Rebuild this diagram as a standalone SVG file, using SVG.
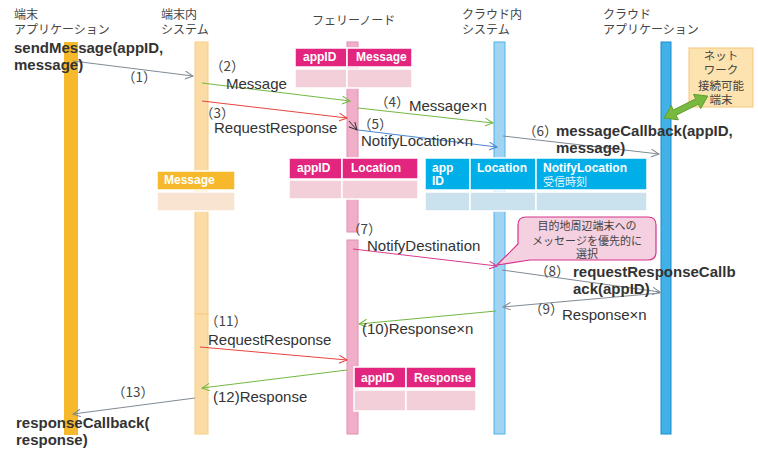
<svg xmlns="http://www.w3.org/2000/svg" width="758" height="450" viewBox="0 0 758 450">
<defs>
<style>
.hd{font-family:"Noto Sans CJK JP","Noto Sans",sans-serif;font-size:12px;fill:#444}
.nw{font-family:"Noto Sans CJK JP","Noto Sans",sans-serif;font-size:11.5px;fill:#444}
.num{font-family:"Noto Sans CJK JP","Noto Sans",sans-serif;font-size:13.5px;fill:#444}
.lb{font-family:"Liberation Sans","Noto Sans CJK JP",sans-serif;font-size:15px;fill:#333}
.bd{font-family:"Liberation Sans","Noto Sans CJK JP",sans-serif;font-size:15px;font-weight:bold;fill:#333}
.th{font-family:"Liberation Sans","Noto Sans CJK JP",sans-serif;font-size:12px;font-weight:bold;fill:#fff}
.tj{font-family:"Noto Sans CJK JP",sans-serif;font-size:11px;fill:#e6f6ff}
.co{font-family:"Noto Sans CJK JP",sans-serif;font-size:11px;fill:#444}
.cell{stroke:#fff;stroke-width:1.5}
.ln{fill:none;stroke-width:1}
</style>
<marker id="ag" markerWidth="10" markerHeight="10" refX="8" refY="4" orient="auto" markerUnits="userSpaceOnUse"><path d="M0,0 L8,4 L0,8" fill="none" stroke="#808a94" stroke-width="1"/></marker>
<marker id="agr" markerWidth="10" markerHeight="10" refX="8" refY="4" orient="auto" markerUnits="userSpaceOnUse"><path d="M0,0 L8,4 L0,8" fill="none" stroke="#72b843" stroke-width="1"/></marker>
<marker id="ar" markerWidth="10" markerHeight="10" refX="8" refY="4" orient="auto" markerUnits="userSpaceOnUse"><path d="M0,0 L8,4 L0,8" fill="none" stroke="#e8443e" stroke-width="1"/></marker>
<marker id="ab" markerWidth="10" markerHeight="10" refX="8" refY="4" orient="auto" markerUnits="userSpaceOnUse"><path d="M0,0 L8,4 L0,8" fill="none" stroke="#4a86d0" stroke-width="1"/></marker>
<marker id="ap" markerWidth="10" markerHeight="10" refX="8" refY="4" orient="auto" markerUnits="userSpaceOnUse"><path d="M0,0 L8,4 L0,8" fill="none" stroke="#d63b8f" stroke-width="1"/></marker>
<marker id="ak" markerWidth="10" markerHeight="10" refX="8" refY="4" orient="auto" markerUnits="userSpaceOnUse"><path d="M0,0 L8,4 L0,8" fill="none" stroke="#333" stroke-width="1"/></marker>
</defs>
<rect width="758" height="450" fill="#fff"/>

<!-- lifelines -->
<g id="term-app">
<text class="hd" x="14" y="19">端末</text>
<text class="hd" x="14" y="34">アプリケーション</text>
<rect x="64" y="42" width="14" height="393" fill="#f6b92b"/>
</g>
<g id="term-sys">
<text class="hd" x="161" y="19">端末内</text>
<text class="hd" x="161" y="34">システム</text>
<rect x="195" y="42" width="13" height="272" fill="#fbdca5" stroke="#f8cd85"/>
<rect x="195" y="314" width="13" height="120" fill="#fbdca5" stroke="#f8cd85"/>
</g>
<g id="ferry">
<text class="hd" x="312" y="25">フェリーノード</text>
<rect x="347" y="42" width="11" height="190" fill="#f0aec9" stroke="#e48db3"/>
<rect x="347" y="240" width="11" height="194" fill="#f0aec9" stroke="#e48db3"/>
</g>
<g id="cloud-sys">
<text class="hd" x="462" y="19">クラウド内</text>
<text class="hd" x="462" y="34">システム</text>
<rect x="494" y="42" width="11" height="392" fill="#a0d4f2" stroke="#4db3e8"/>
</g>
<g id="cloud-app">
<text class="hd" x="603" y="19">クラウド</text>
<text class="hd" x="603" y="34">アプリケーション</text>
<rect x="661" y="42" width="10" height="392" fill="#41b1e8" stroke="#1d8ccc"/>
</g>

<g id="network">
<rect x="689" y="48" width="64" height="59" fill="#fde3b0" stroke="#f5c77a"/>
<text class="nw" x="721" y="60" text-anchor="middle">ネット</text>
<text class="nw" x="721" y="74" text-anchor="middle">ワーク</text>
<text class="nw" x="721" y="90" text-anchor="middle">接続可能</text>
<text class="nw" x="721" y="104" text-anchor="middle">端末</text>
</g>

<!-- tables -->
<g id="table-ferry-msg">
<rect class="cell" x="295" y="48" width="52" height="19" fill="#e2257f"/>
<rect class="cell" x="347" y="48" width="65" height="19" fill="#e2257f"/>
<rect class="cell" x="295" y="69" width="52" height="19" fill="#f3cfd9"/>
<rect class="cell" x="347" y="69" width="65" height="19" fill="#f3cfd9"/>
<text class="th" x="303" y="61">appID</text>
<text class="th" x="356" y="61">Message</text>
</g>
<g id="table-term-msg">
<rect class="cell" x="157" y="171" width="78" height="19" fill="#f6b92b"/>
<rect class="cell" x="157" y="192" width="78" height="19" fill="#f8e4d0"/>
<text class="th" x="164" y="184">Message</text>
</g>
<g id="table-ferry-loc">
<rect class="cell" x="289" y="158" width="53" height="21" fill="#e2257f"/>
<rect class="cell" x="342" y="158" width="76" height="21" fill="#e2257f"/>
<rect class="cell" x="289" y="180" width="53" height="19" fill="#f3cfd9"/>
<rect class="cell" x="342" y="180" width="76" height="19" fill="#f3cfd9"/>
<text class="th" x="297" y="172">appID</text>
<text class="th" x="351" y="172">Location</text>
</g>
<g id="table-cloud-loc">
<rect class="cell" x="425" y="158" width="45" height="32" fill="#00aee8"/>
<rect class="cell" x="470" y="158" width="66" height="32" fill="#00aee8"/>
<rect class="cell" x="536" y="158" width="111" height="32" fill="#00aee8"/>
<rect class="cell" x="425" y="192" width="45" height="19" fill="#c9e2ee"/>
<rect class="cell" x="470" y="192" width="66" height="19" fill="#c9e2ee"/>
<rect class="cell" x="536" y="192" width="111" height="19" fill="#c9e2ee"/>
<text class="th" x="432" y="172">app</text>
<text class="th" x="432" y="185">ID</text>
<text class="th" x="477" y="172">Location</text>
<text class="th" x="543" y="172">NotifyLocation</text>
<text class="tj" x="543" y="186">受信時刻</text>
</g>
<g id="table-ferry-resp">
<rect class="cell" x="354" y="367" width="52" height="21" fill="#e2257f"/>
<rect class="cell" x="406" y="367" width="70" height="21" fill="#e2257f"/>
<rect class="cell" x="354" y="390" width="52" height="21" fill="#f3cfd9"/>
<rect class="cell" x="406" y="390" width="70" height="21" fill="#f3cfd9"/>
<text class="th" x="361" y="382">appID</text>
<text class="th" x="414" y="382">Response</text>
</g>

<g id="callout">
<path d="M526,217 H648 Q656,217 656,225 V252 Q656,260 648,260 H530 L497,265 L518,244 V225 Q518,217 526,217 Z" fill="#f5d0e0" stroke="#d6338a" stroke-width="1.2"/>
<text class="co" x="587" y="230" text-anchor="middle">目的地周辺端末への</text>
<text class="co" x="587" y="245" text-anchor="middle">メッセージを優先的に</text>
<text class="co" x="587" y="258" text-anchor="middle">選択</text>
</g>

<!-- connectors -->
<g id="connectors">
<line class="ln" x1="73" y1="61" x2="193" y2="76" stroke="#808a94" marker-end="url(#ag)"/>
<line class="ln" x1="202" y1="83" x2="350" y2="101" stroke="#72b843" marker-end="url(#agr)"/>
<line class="ln" x1="202" y1="101" x2="347" y2="118" stroke="#e8443e" marker-end="url(#ar)"/>
<line class="ln" x1="349" y1="121" x2="357" y2="130" stroke="#333" marker-end="url(#ak)"/>
<line class="ln" x1="358" y1="108" x2="493" y2="123" stroke="#72b843" marker-end="url(#agr)"/>
<line class="ln" x1="358" y1="130" x2="497" y2="147" stroke="#4a86d0" marker-end="url(#ab)"/>
<line class="ln" x1="503" y1="136" x2="659" y2="154" stroke="#808a94" marker-end="url(#ag)"/>
<line class="ln" x1="353" y1="249" x2="497" y2="266" stroke="#d63b8f" marker-end="url(#ap)"/>
<line class="ln" x1="502" y1="270" x2="660" y2="292" stroke="#808a94" marker-end="url(#ag)"/>
<line class="ln" x1="660" y1="293" x2="503" y2="307" stroke="#808a94" marker-end="url(#ag)"/>
<line class="ln" x1="496" y1="311" x2="359" y2="324" stroke="#72b843" marker-end="url(#agr)"/>
<line class="ln" x1="200" y1="347" x2="347" y2="360" stroke="#e8443e" marker-end="url(#ar)"/>
<line class="ln" x1="347" y1="370" x2="202" y2="388" stroke="#72b843" marker-end="url(#agr)"/>
<line class="ln" x1="195" y1="398" x2="73" y2="414" stroke="#808a94" marker-end="url(#ag)"/>
<polygon points="664,118 678.3,119.8 676.1,115.3 698.4,104.1 700.7,108.6 707.8,96.1 693.5,94.3 695.7,98.8 673.4,110 671.2,105.5" fill="#78b93f" stroke="#5f9e2c" stroke-width="1"/>
</g>

<!-- labels -->
<g id="labels">
<text class="bd" x="14" y="53">sendMessage(appID,</text>
<text class="bd" x="14" y="70">message)</text>
<text class="num" x="122" y="82">（1）</text>
<text class="num" x="210" y="71">（2）</text>
<text class="lb" x="226" y="89">Message</text>
<text class="num" x="200" y="118">（3）</text>
<text class="lb" x="214" y="133">RequestResponse</text>
<text class="num" x="375" y="107">（4）</text>
<text class="lb" x="409" y="111">Message×n</text>
<text class="num" x="358" y="129">（5）</text>
<text class="lb" x="361" y="146">NotifyLocation×n</text>
<text class="num" x="523" y="136">（6）</text>
<text class="bd" x="556" y="136">messageCallback(appID,</text>
<text class="bd" x="556" y="153">message)</text>
<text class="num" x="347" y="234">（7）</text>
<text class="lb" x="367" y="251">NotifyDestination</text>
<text class="num" x="535" y="276">（8）</text>
<text class="bd" x="573" y="277">requestResponseCallb</text>
<text class="bd" x="573" y="294">ack(appID)</text>
<text class="num" x="529" y="314">（9）</text>
<text class="lb" x="562" y="320">Response×n</text>
<text class="lb" x="362" y="334">(10)Response×n</text>
<text class="num" x="205" y="326">（11）</text>
<text class="lb" x="208" y="345">RequestResponse</text>
<text class="lb" x="213" y="402">(12)Response</text>
<text class="num" x="112" y="397">（13）</text>
<text class="bd" x="16" y="428">responseCallback(</text>
<text class="bd" x="16" y="445">response)</text>
</g>
</svg>
